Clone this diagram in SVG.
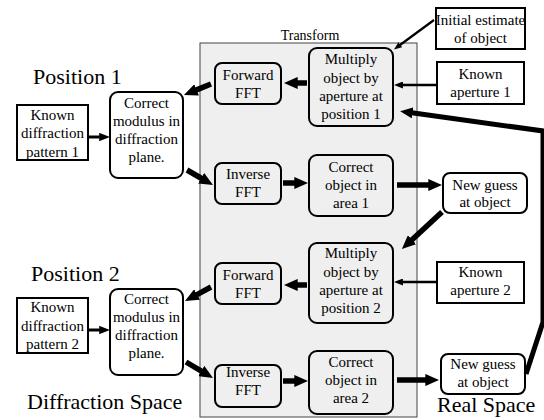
<svg xmlns="http://www.w3.org/2000/svg" width="544" height="420" viewBox="0 0 544 420" font-family="Liberation Serif, DejaVu Serif, serif">
<style>
text{font-family:'Liberation Serif','DejaVu Serif',serif;fill:#000}
.t{font-size:15px;text-anchor:middle}
.big{font-size:22px}
.plain{fill:#fff;stroke:#000;stroke-width:2}
.rw{fill:#fff;stroke:#000;stroke-width:2}
.rg{fill:#efefef;stroke:#000;stroke-width:2}
.thick{fill:none;stroke:#000;stroke-width:5.5;marker-end:url(#hb)}
.thin{fill:none;stroke:#000;stroke-width:2.5;marker-end:url(#ht)}
</style>
<defs>
<marker id="hb" viewBox="0 0 10 10" refX="0.5" refY="5" markerWidth="2.5" markerHeight="2.2" markerUnits="strokeWidth" orient="auto" preserveAspectRatio="none"><path d="M0,0 L10,5 L0,10 z" fill="#000"/></marker>
<marker id="ht" viewBox="0 0 10 10" refX="0.5" refY="5" markerWidth="3.6" markerHeight="2.8" markerUnits="strokeWidth" orient="auto" preserveAspectRatio="none"><path d="M0,0 L10,5 L0,10 z" fill="#000"/></marker>
</defs>
<rect x="0" y="0" width="544" height="420" fill="#fff"/>
<g id="transform">
<rect x="200" y="43" width="217" height="374" fill="#efefef" stroke="#444" stroke-width="1"/>
<text x="310" y="40" style="font-size:14px;text-anchor:middle">Transform</text>
</g>
<g id="labels">
<text class="big" x="33" y="84">Position 1</text>
<text class="big" x="31" y="281">Position 2</text>
<text class="big" x="27" y="409">Diffraction Space</text>
<text class="big" x="437" y="412">Real Space</text>
</g>
<g id="kd1"><rect class="plain" x="17" y="105" width="71" height="55"/>
<text class="t" x="52.5" y="120">Known</text><text class="t" x="52.5" y="138">diffraction</text><text class="t" x="52.5" y="157">pattern 1</text></g>
<g id="cm1"><rect class="rw" x="110" y="92" width="73" height="86" rx="8"/>
<text class="t" x="146.5" y="108">Correct</text><text class="t" x="146.5" y="126">modulus in</text><text class="t" x="146.5" y="144">diffraction</text><text class="t" x="146.5" y="162">plane.</text></g>
<g id="fwd1"><rect class="rg" x="215" y="63" width="66" height="41" rx="7"/>
<text class="t" x="248" y="80">Forward</text><text class="t" x="248" y="98">FFT</text></g>
<g id="inv1"><rect class="rg" x="215" y="163" width="66" height="41" rx="7"/>
<text class="t" x="248" y="179">Inverse</text><text class="t" x="248" y="197">FFT</text></g>
<g id="mul1"><rect class="rg" x="309" y="48" width="84" height="78" rx="8"/>
<text class="t" x="351" y="64">Multiply</text><text class="t" x="351" y="83">object by</text><text class="t" x="351" y="101">aperture at</text><text class="t" x="351" y="119">position 1</text></g>
<g id="co1"><rect class="rg" x="309" y="155" width="84" height="61" rx="8"/>
<text class="t" x="351" y="172">Correct</text><text class="t" x="351" y="190">object in</text><text class="t" x="351" y="208">area 1</text></g>
<g id="ie"><rect class="plain" x="436" y="8" width="89" height="41"/>
<text class="t" x="480.5" y="25">Initial estimate</text><text class="t" x="480.5" y="43">of object</text></g>
<g id="ka1"><rect class="plain" x="437" y="62" width="87" height="42"/>
<text class="t" x="480.5" y="79">Known</text><text class="t" x="480.5" y="97">aperture 1</text></g>
<g id="ng1"><rect class="rw" x="443" y="173" width="84" height="40" rx="7"/>
<text class="t" x="485" y="190">New guess</text><text class="t" x="485" y="207">at object</text></g>
<g id="kd2"><rect class="plain" x="17" y="298" width="71" height="55"/>
<text class="t" x="52.5" y="312">Known</text><text class="t" x="52.5" y="331">diffraction</text><text class="t" x="52.5" y="349">pattern 2</text></g>
<g id="cm2"><rect class="rw" x="110" y="289" width="73" height="86" rx="8"/>
<text class="t" x="146.5" y="304">Correct</text><text class="t" x="146.5" y="322">modulus in</text><text class="t" x="146.5" y="340">diffraction</text><text class="t" x="146.5" y="358">plane.</text></g>
<g id="fwd2"><rect class="rg" x="215" y="263" width="66" height="41" rx="7"/>
<text class="t" x="248" y="280">Forward</text><text class="t" x="248" y="298">FFT</text></g>
<g id="inv2"><rect class="rg" x="215" y="365" width="66" height="42" rx="7"/>
<text class="t" x="248" y="377">Inverse</text><text class="t" x="248" y="395">FFT</text></g>
<g id="mul2"><rect class="rg" x="309" y="243" width="84" height="80" rx="8"/>
<text class="t" x="351" y="258">Multiply</text><text class="t" x="351" y="277">object by</text><text class="t" x="351" y="295">aperture at</text><text class="t" x="351" y="313">position 2</text></g>
<g id="co2"><rect class="rg" x="309" y="351" width="84" height="63" rx="8"/>
<text class="t" x="351" y="367">Correct</text><text class="t" x="351" y="385">object in</text><text class="t" x="351" y="403">area 2</text></g>
<g id="ka2"><rect class="plain" x="437" y="262" width="87" height="41"/>
<text class="t" x="480.5" y="277">Known</text><text class="t" x="480.5" y="295">aperture 2</text></g>
<g id="ng2"><rect class="rw" x="441" y="354" width="84" height="40" rx="7"/>
<text class="t" x="483" y="369">New guess</text><text class="t" x="483" y="387">at object</text></g>
<g id="connectors">
<path class="thin" style="stroke-width:3" d="M88,137 L99.7,137"/>
<path class="thin" style="stroke-width:3" d="M88,330 L99.7,330"/>
<path class="thick" d="M211,84 L196,90.1"/>
<path class="thick" d="M187,170 L201.7,178.5"/>
<path class="thick" d="M211,287 L196.5,294.8"/>
<path class="thick" d="M186,362 L201.8,371.4"/>
<path class="thick" d="M307,83 L297,83"/>
<path class="thick" d="M307,285 L297,285"/>
<path class="thick" d="M283,183 L295,183"/>
<path class="thick" d="M283,381 L295,381"/>
<path class="thick" d="M397,185 L429,185"/>
<path class="thick" d="M397,380 L426,380"/>
<path class="thick" d="M442,212 L411.5,240.2"/>
<path class="thick" style="stroke-width:5" d="M526,374 L543,322 L543,131 L411.9,112.8"/>
<path class="thin" style="stroke-width:2.2" d="M434,20 L400,45"/>
<path class="thin" d="M437,85 L402.5,85"/>
<path class="thin" d="M437,282 L402.5,282"/>
</g>
</svg>
